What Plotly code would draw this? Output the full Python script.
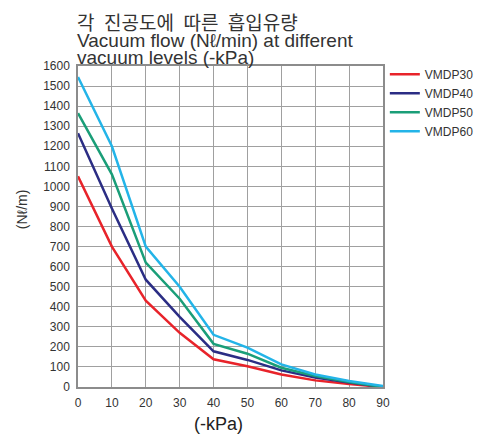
import plotly.graph_objects as go

kpa = [0, 10, 20, 30, 40, 50, 60, 70, 80, 90]
vmdp30 = [1050, 700, 430, 270, 138, 103, 62, 33, 15, 0]
vmdp40 = [1265, 890, 535, 350, 178, 135, 83, 47, 22, 0]
vmdp50 = [1365, 1060, 620, 440, 215, 166, 96, 55, 25, 0]
vmdp60 = [1545, 1200, 700, 500, 260, 196, 113, 62, 30, 5]
series_names = ["VMDP30", "VMDP40", "VMDP50", "VMDP60"]
series_colors = ["#e8232a", "#2b2d84", "#1a9e78", "#23b4e8"]
y_ticks = list(range(0, 1700, 100))

fig = go.Figure()
for name, vals, col in zip(series_names, [vmdp30, vmdp40, vmdp50, vmdp60], series_colors):
    fig.add_trace(go.Scatter(x=kpa, y=vals, mode="lines", name=name,
                             line=dict(color=col, width=2.5)))

LAT = "Liberation Sans, Arial, sans-serif"
axis_font = dict(family=LAT, size=12, color="#333333")
common = dict(showgrid=True, gridcolor="#a0a0a0", gridwidth=1,
              showline=True, linecolor="#8c8c8c", linewidth=1.5, mirror=True,
              zeroline=False, tickfont=axis_font, ticks="outside", ticklen=4,
              tickcolor="rgba(0,0,0,0)", automargin=False)
fig.update_xaxes(range=[0, 90], tickvals=kpa, **common)
fig.update_yaxes(range=[0, 1600], tickvals=y_ticks, **common)

title_font = dict(family=LAT, size=19, color="#333333")
fig.add_annotation(text="각\u2002진공도에\u2002따른\u2002흡입유량", xref="paper", yref="paper", x=0, y=1,
                   xanchor="left", yanchor="middle", yshift=45, xshift=-3, showarrow=False,
                   font=dict(family="Noto Sans CJK KR, sans-serif", size=19, color="#333333"))
fig.add_annotation(text="Vacuum flow (Nℓ/min) at different", xref="paper", yref="paper", x=0, y=1,
                   xanchor="left", yanchor="middle", yshift=26, xshift=-3, showarrow=False, font=title_font)
fig.add_annotation(text="vacuum levels (-kPa)", xref="paper", yref="paper", x=0, y=1,
                   xanchor="left", yanchor="middle", yshift=9, xshift=-3, showarrow=False, font=title_font)

fig.add_annotation(text="(-kPa)", xref="paper", yref="paper", x=0.462, y=0, xanchor="center",
                   yanchor="middle", yshift=-37, showarrow=False,
                   font=dict(family=LAT, size=18, color="#222222"))
fig.add_annotation(text="(Nℓ/m)", xref="paper", yref="paper", x=0, y=0.554, xanchor="center",
                   yanchor="middle", xshift=-56, textangle=-90, showarrow=False,
                   font=dict(family=LAT, size=14, color="#333333"))

fig.update_layout(
    width=477, height=427,
    margin=dict(l=70, r=102, t=58, b=48),
    paper_bgcolor="white", plot_bgcolor="white",
    legend=dict(xref="container", yref="container", x=0.790, xanchor="left", y=0.879, yanchor="top",
                font=dict(family=LAT, size=12, color="#333"),
                tracegroupgap=0, itemwidth=30, bgcolor="rgba(0,0,0,0)"),
)

fig.write_html("out.html")
